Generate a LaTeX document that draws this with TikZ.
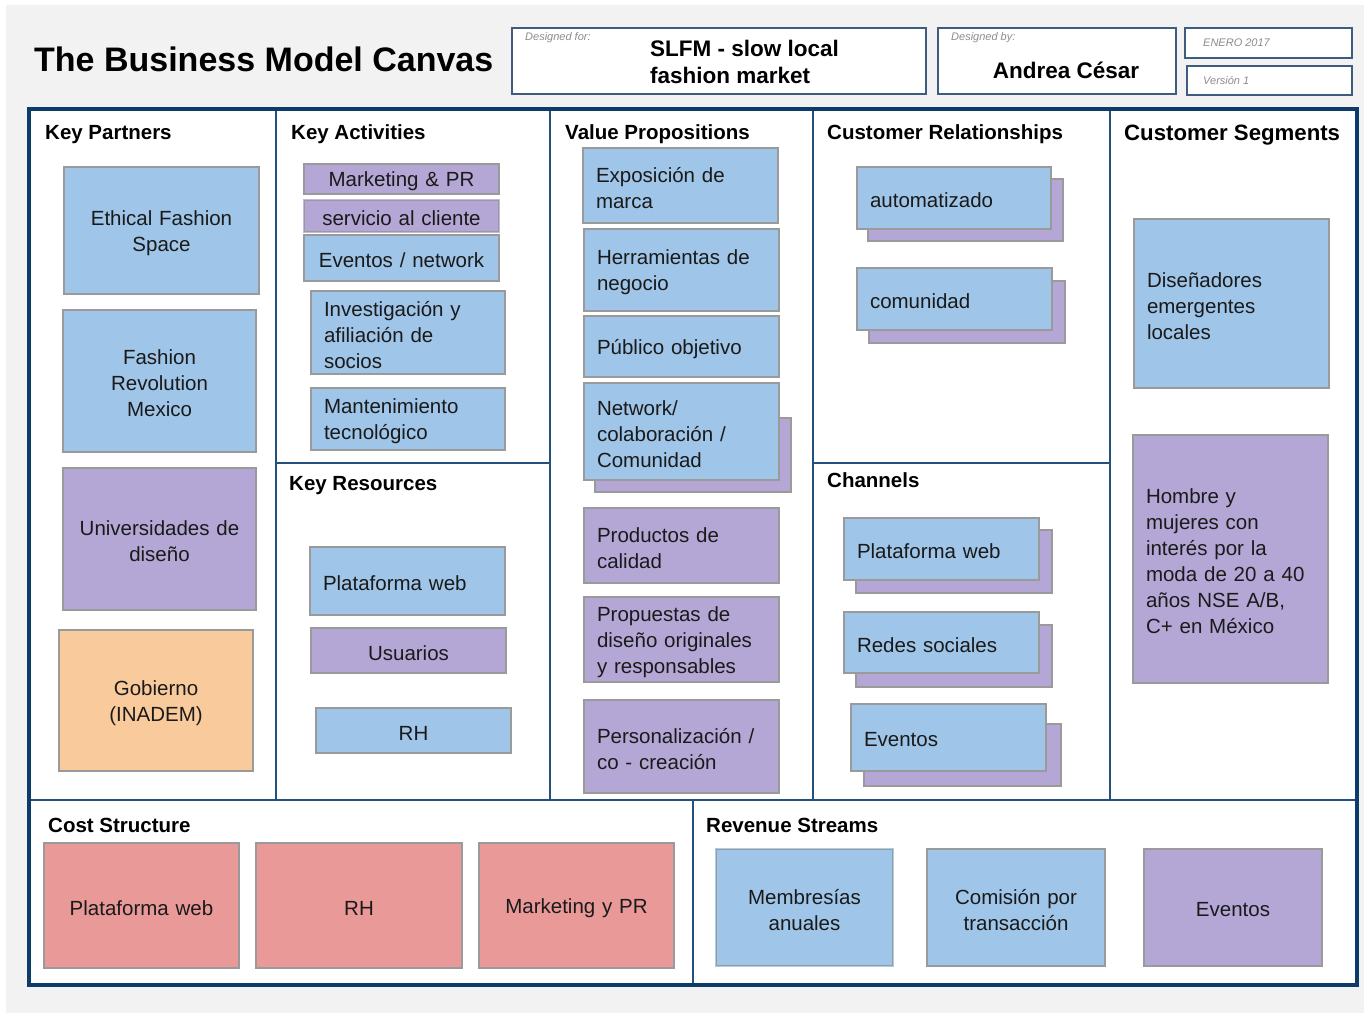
\documentclass[tikz,border=0pt]{standalone}
\usepackage{fontspec}
\setmainfont{Liberation Sans}
\definecolor{bggray}{HTML}{F2F2F2}
\definecolor{framec}{HTML}{0E3B68}
\definecolor{linec}{HTML}{24507D}
\definecolor{hdrc}{HTML}{3E5C82}
\definecolor{boxgray}{HTML}{9A9A9A}
\definecolor{cblue}{HTML}{9FC5E8}
\definecolor{cpurp}{HTML}{B4A7D6}
\definecolor{corng}{HTML}{F9CB9C}
\definecolor{cred}{HTML}{EA9999}
\definecolor{smallgray}{HTML}{8C8C8C}
\definecolor{txt}{HTML}{1A1A1A}
\tikzset{
  cardbox/.style={draw=boxgray, line width=1.3pt, inner sep=0pt},
  cardtext/.style={inner xsep=13pt, inner ysep=0pt, text=txt},
  shbox/.style={draw=boxgray, line width=1.3pt, fill=cpurp},
  head/.style={font=\fontsize{20.5}{24}\selectfont\bfseries, text=black, inner sep=0pt, anchor=base west},
  hdrbox/.style={draw=hdrc, line width=1.1pt, fill=white},
  tiny/.style={font=\fontsize{11}{12}\selectfont\itshape, text=smallgray, inner sep=0pt, anchor=west},
  divider/.style={draw=linec, line width=1.7pt},
}
\newcommand\cardnode[8]{%
  \pgfmathsetmacro\bxw{#4-#2}%
  \pgfmathsetmacro\bxh{#5-#3}%
  \pgfmathsetmacro\bxt{#4-#2-26}%
  \node[cardbox, fill=#6, minimum width=\bxw pt, minimum height=\bxh pt]
    (#1) at ({(#2+#4)/2},{(#3+#5)/2}) {};
  \node[cardtext, align=#7, text width=\bxt pt, yshift=-2.5pt] (#1-t) at (#1.center) {#8};}
\begin{document}
\begin{tikzpicture}[x=1pt,y=-1pt, font=\fontsize{20.5}{26}\selectfont]
\useasboundingbox (0,0) rectangle (1364,1013);
\fill[white] (0,0) rectangle (1364,1013);
\fill[bggray] (6,5) rectangle (1364,1013);

% header
\node[font=\fontsize{34}{40}\selectfont\bfseries, inner sep=0pt, anchor=base west] (title) at (34,71) {The Business Model Canvas};
\draw[hdrbox] (512,28) rectangle (926,94);
\node[tiny] (dforl) at (525,38) {Designed for:};
\node[font=\fontsize{22.5}{27}\selectfont\bfseries, inner sep=0pt, anchor=base west] (slfm1) at (650,56) {SLFM - slow local};
\node[font=\fontsize{22.5}{27}\selectfont\bfseries, inner sep=0pt, anchor=base west] (slfm2) at (650,83) {fashion market};
\draw[hdrbox] (938,28) rectangle (1176,94);
\node[tiny] (dbyl) at (951,38) {Designed by:};
\node[font=\fontsize{22.5}{27}\selectfont\bfseries, inner sep=0pt, anchor=base] (author) at (1066,78) {Andrea César};
\draw[hdrbox] (1185,28) rectangle (1352,58);
\node[tiny] (date) at (1203,43) {ENERO 2017};
\draw[hdrbox] (1187,66) rectangle (1352,95);
\node[tiny] (ver) at (1203,80) {Versión 1};

% canvas frame
\fill[white] (29,109) rectangle (1357,985);
\draw[divider] (276,109) -- (276,800);
\draw[divider] (550,109) -- (550,800);
\draw[divider] (813,109) -- (813,800);
\draw[divider] (1110,109) -- (1110,800);
\draw[divider] (276,463) -- (550,463);
\draw[divider] (813,463) -- (1110,463);
\draw[divider] (29,800) -- (1357,800);
\draw[divider] (693,800) -- (693,985);
\draw[draw=framec, line width=3.5pt] (29,109) rectangle (1357,985);

% headings
\node[head] (hKP) at (45,139) {Key Partners};
\node[head] (hKA) at (291,139) {Key Activities};
\node[head] (hVP) at (565,139) {Value Propositions};
\node[head] (hCR) at (827,139) {Customer Relationships};
\node[head, font=\fontsize{22.2}{24}\selectfont\bfseries] (hCS) at (1124,140) {Customer Segments};
\node[head] (hKR) at (289,490) {Key Resources};
\node[head] (hCH) at (827,487) {Channels};
\node[head] (hCO) at (48,832) {Cost Structure};
\node[head] (hRS) at (706,832) {Revenue Streams};

% Key Partners
\cardnode{kp1}{64}{167}{259}{294}{cblue}{center}{Ethical Fashion\\Space}
\cardnode{kp2}{63}{310}{256}{452}{cblue}{center}{Fashion\\Revolution\\Mexico}
\cardnode{kp3}{63}{468}{256}{610}{cpurp}{center}{Universidades de\\diseño}
\cardnode{kp4}{59}{630}{253}{771}{corng}{center}{Gobierno\\(INADEM)}

% Key Activities
\cardnode{ka1}{304}{164}{499}{194}{cpurp}{center}{Marketing \& PR}
\cardnode{ka2}{304}{200}{499}{232}{cpurp}{center}{servicio al cliente}
\draw[draw=cpurp!80!white, line width=1.3pt] (ka2.north west) rectangle (ka2.south east);
\cardnode{ka3}{304}{235}{499}{281}{cblue}{center}{Eventos / network}
\cardnode{ka4}{311}{291}{505}{374}{cblue}{left}{Investigación y\\afiliación de\\socios}
\cardnode{ka5}{311}{388}{505}{450}{cblue}{left}{Mantenimiento\\tecnológico}

% Key Resources
\cardnode{kr1}{310}{547}{505}{615}{cblue}{left}{Plataforma web}
\cardnode{kr2}{311}{628}{506}{673}{cpurp}{center}{Usuarios}
\cardnode{kr3}{316}{708}{511}{753}{cblue}{center}{RH}

% Value Propositions
\cardnode{vp1}{583}{148}{778}{223}{cblue}{left}{Exposición de\\marca}
\cardnode{vp2}{584}{229}{779}{311}{cblue}{left}{Herramientas de\\negocio}
\cardnode{vp3}{584}{316}{779}{377}{cblue}{left}{Público objetivo}
\draw[shbox] (595,418) rectangle (791,492);
\cardnode{vp4}{584}{383}{779}{480}{cblue}{left}{Network/\\colaboración /\\Comunidad}
\cardnode{vp5}{584}{508}{779}{583}{cpurp}{left}{Productos de\\calidad}
\cardnode{vp6}{584}{597}{779}{682}{cpurp}{left}{Propuestas de\\diseño originales\\y responsables}
\cardnode{vp7}{584}{700}{779}{793}{cpurp}{left}{Personalización /\\co - creación}

% Customer Relationships
\draw[shbox] (868,179) rectangle (1063,241);
\cardnode{cr1}{857}{167}{1051}{229}{cblue}{left}{automatizado}
\draw[shbox] (869,281) rectangle (1065,343);
\cardnode{cr2}{857}{268}{1052}{330}{cblue}{left}{comunidad}

% Channels
\draw[shbox] (856,530) rectangle (1052,593);
\cardnode{ch1}{844}{518}{1039}{580}{cblue}{left}{Plataforma web}
\draw[shbox] (856,625) rectangle (1052,687);
\cardnode{ch2}{844}{612}{1039}{673}{cblue}{left}{Redes sociales}
\draw[shbox] (864,724) rectangle (1061,786);
\cardnode{ch3}{851}{704}{1046}{771}{cblue}{left}{Eventos}

% Customer Segments
\cardnode{cs1}{1134}{219}{1329}{388}{cblue}{left}{Diseñadores\\emergentes\\locales}
\cardnode{cs2}{1133}{435}{1328}{683}{cpurp}{left}{Hombre y\\mujeres con\\interés por la\\moda de 20 a 40\\años NSE A/B,\\C+ en México}

% Cost Structure
\cardnode{co1}{44}{843}{239}{968}{cred}{center}{Plataforma web}
\cardnode{co2}{256}{843}{462}{968}{cred}{center}{RH}
\cardnode{co3}{479}{843}{674}{968}{cred}{center}{Marketing y PR}

% Revenue Streams
\cardnode{rs1}{716}{849}{893}{966}{cblue}{center}{Membresías\\anuales}
\draw[draw=cblue!85!white, line width=1.3pt] (rs1.north west) rectangle (rs1.south east);
\cardnode{rs2}{927}{849}{1105}{966}{cblue}{center}{Comisión por\\transacción}
\cardnode{rs3}{1144}{849}{1322}{966}{cpurp}{center}{Eventos}
\end{tikzpicture}
\end{document}
